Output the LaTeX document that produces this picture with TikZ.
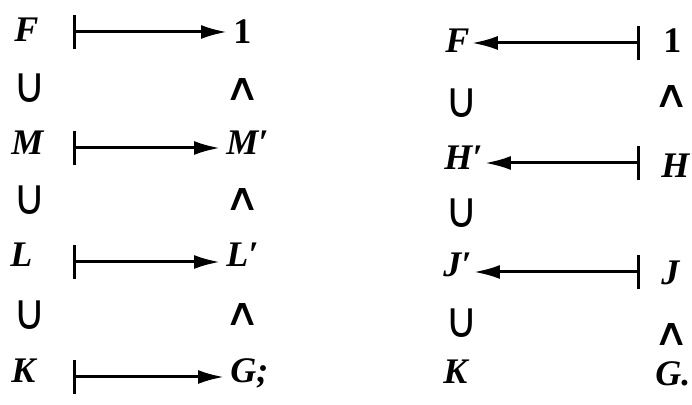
\documentclass[tikz,border=0pt]{standalone}
\usepackage{fontspec,graphicx}
\setmainfont{Liberation Serif}
\newfontfamily\symfont{DejaVu Sans}
\usetikzlibrary{arrows.meta}
\newcommand{\vcup}{\scalebox{1.35}[1.5]{∪}}
\newcommand{\vwedge}{\scalebox{1.5}[1.15]{∧}}
\tikzset{v/.style={font=\fontsize{18}{20}\selectfont\bfseries\itshape,inner sep=0pt,anchor=base west},
 one/.style={v,font=\fontsize{18}{20}\selectfont\bfseries\upshape},
 inc/.style={font=\fontsize{16.5}{18}\selectfont\symfont,inner sep=0pt},
 mto/.style={{Bar[width=17pt]}-{Latex[length=13pt,width=7pt]},line width=1.5pt,shorten >=3pt}}
\begin{document}
\begin{tikzpicture}[x=0.5pt,y=-0.5pt]
\useasboundingbox (0,0) rectangle (692,405);
% left square
\node[v] (lF) at (14,42){F};\node[v] (lM) at (11,155){M};\node[v] (lL) at (10,267){L};\node[v] (lK) at (11,383){K};
\node[one] (lI) at (233,44){1};\node[v] (lMp) at (226,155){M′};\node[v] (lLp) at (226,267){L′};\node[v] (lG) at (230,383){G;};
\node[inc] (lu1) at (30,88){\vcup};\node[inc] (lu2) at (30,200){\vcup};\node[inc] (lu3) at (30,315){\vcup};
\node[inc] (lw1) at (243,90){\vwedge};\node[inc] (lw2) at (243,200){\vwedge};\node[inc] (lw3) at (243,315){\vwedge};
\coordinate (lb1) at (73,32);\coordinate (lb2) at (73,148);\coordinate (lb3) at (73,262);\coordinate (lb4) at (73,377);
\draw[mto] (lb1)--(lb1-|lI.west);\draw[mto] (lb2)--(lb2-|lMp.west);
\draw[mto] (lb3)--(lb3-|lLp.west);\draw[mto] (lb4)--(lb4-|lG.west);
% right square
\node[v] (rF) at (445,53){F};\node[v] (rHp) at (444,170){H′};\node[v] (rJp) at (443,277){J′};\node[v] (rK) at (443,384){K};
\node[one] (rI) at (663,53){1};\node[v] (rH) at (661,178){H};\node[v] (rJ) at (661,285){J};\node[v] (rG) at (655,386){G.};
\node[inc] (ru1) at (462,103){\vcup};\node[inc] (ru2) at (462,213){\vcup};\node[inc] (ru3) at (462,323){\vcup};
\node[inc] (rw1) at (672,97){\vwedge};\node[inc] (rw2) at (672,335){\vwedge};
\coordinate (rb1) at (640,43);\coordinate (rb2) at (640,163);\coordinate (rb3) at (640,272);
\draw[mto,shorten >=1pt] (rb1)--(rb1-|rF.east);\draw[mto,shorten >=1pt] (rb2)--(rb2-|rHp.east);
\draw[mto,shorten >=1pt] (rb3)--(rb3-|rJp.east);
\end{tikzpicture}
\end{document}
